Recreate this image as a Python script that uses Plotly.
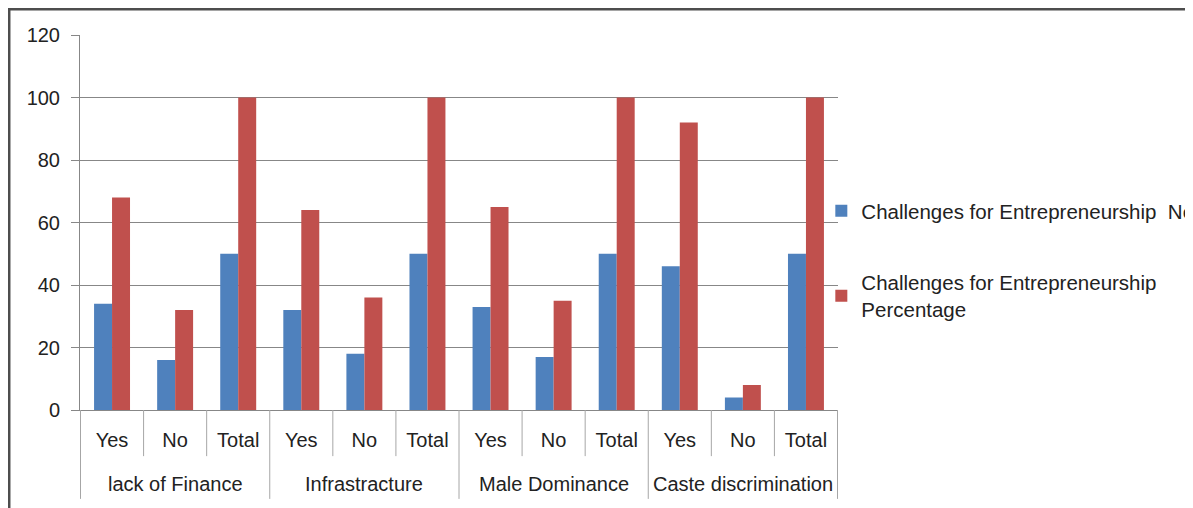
import plotly.graph_objects as go

groups = ["lack of Finance", "Infrastracture", "Male Dominance", "Caste discrimination"]
subs = ["Yes", "No", "Total"]
series_no = [34, 16, 50, 32, 18, 50, 33, 17, 50, 46, 4, 50]
series_pct = [68, 32, 100, 64, 36, 100, 65, 35, 100, 92, 8, 100]
y_ticks = [0, 20, 40, 60, 80, 100, 120]

keys = [f"{g}|{s}" for g in groups for s in subs]
x_subs = [s for _ in groups for s in subs]

FONT = "Liberation Sans"
GRID = "#878787"
DIV = "#A6A6A6"

fig = go.Figure()
fig.add_trace(go.Bar(x=keys, y=series_no, name="Challenges for Entrepreneurship  No",
                     marker=dict(color="#4F81BD", line=dict(width=0)), legendgroup="a"))
fig.add_trace(go.Bar(x=keys, y=series_pct, name="Challenges for Entrepreneurship<br>Percentage",
                     marker=dict(color="#C0504D", line=dict(width=0)), legendgroup="b"))

fig.update_layout(
    width=1193, height=508,
    margin=dict(l=72, r=363, t=27, b=106, autoexpand=False),
    paper_bgcolor="white", plot_bgcolor="white",
    barmode="group", bargap=0.43, bargroupgap=0,
    font=dict(family=FONT, size=20, color="#222222"),
    legend=dict(x=0.978, y=0.40, xanchor="left", yanchor="middle", tracegroupgap=42,
                font=dict(size=20.5), bgcolor="rgba(0,0,0,0)"),
    showlegend=True,
    xaxis=dict(type="category", tickmode="array", tickvals=keys, ticktext=x_subs,
               showline=True, linecolor=GRID, linewidth=1, ticks="",
               ticklabelstandoff=12, tickfont=dict(size=20), showgrid=False),
    yaxis=dict(range=[0, 120], tickvals=y_ticks, showgrid=True, gridcolor=GRID, gridwidth=1,
               showline=True, linecolor=GRID, linewidth=1, ticks="outside", ticklen=8,
               tickcolor=GRID, zeroline=False, tickfont=dict(size=20), ticklabelstandoff=7),
)

n = len(keys)
for i in range(n + 1):
    is_group = (i % len(subs) == 0)
    fig.add_shape(type="line", xref="x", yref="paper", x0=i - 0.5, x1=i - 0.5,
                  y0=0, y1=-0.237 if is_group else -0.123,
                  line=dict(color=DIV, width=1))

for gi, g in enumerate(groups):
    mid = keys[gi * len(subs) + 1]
    fig.add_annotation(x=mid, xref="x", y=-0.197, yref="paper", text=g, showarrow=False,
                       yanchor="middle", font=dict(size=20))

fig.add_shape(type="rect", xref="paper", yref="paper", x0=-0.0937, x1=2, y0=-1, y1=1.0693,
              line=dict(color="#4d4d4d", width=3), fillcolor="rgba(0,0,0,0)", layer="below")
fig.write_html("out.html")
